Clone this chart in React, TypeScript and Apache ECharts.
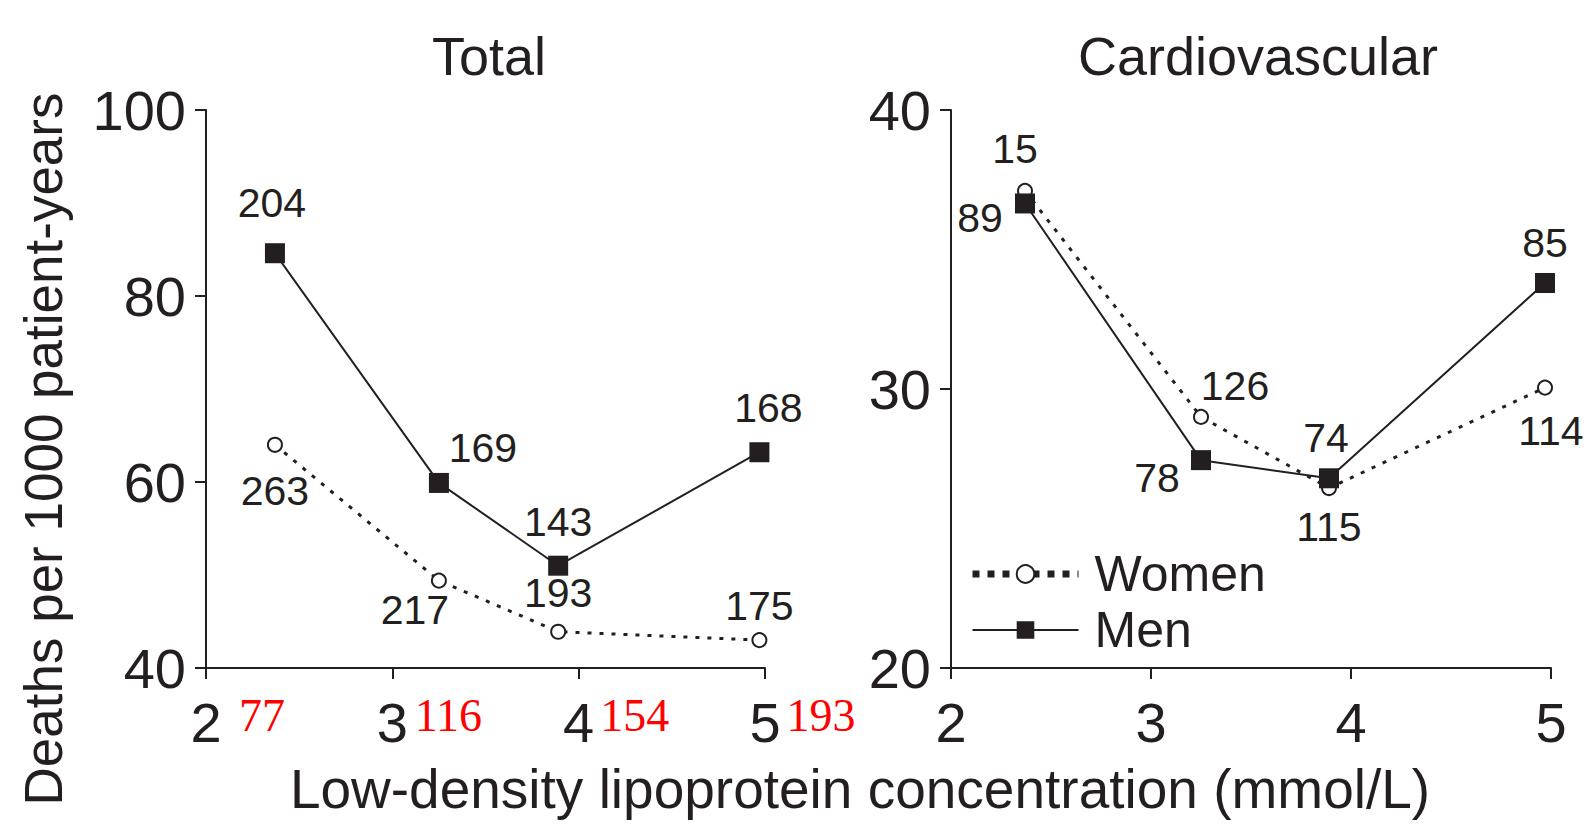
import React, { useEffect, useRef } from "react";
import * as echarts from "echarts";

// ---- data ----
const xTickValues = [2, 3, 4, 5];
const mgdlTickLabels = ["77", "116", "154", "193"];
const ldlMeans = [2.37, 3.25, 3.89, 4.97];

const totalMen = [84.6, 59.9, 51.0, 63.2];
const totalWomen = [64.0, 49.4, 43.9, 43.0];
const totalMenCounts = ["204", "169", "143", "168"];
const totalWomenCounts = ["263", "217", "193", "175"];

const cvMen = [36.65, 27.45, 26.8, 33.8];
const cvWomen = [37.1, 29.0, 26.45, 30.05];
const cvMenCounts = ["89", "78", "74", "85"];
const cvWomenCounts = ["15", "126", "115", "114"];

const panelTitles = ["Total", "Cardiovascular"];
const xAxisTitle = "Low-density lipoprotein concentration (mmol/L)";
const yAxisTitle = "Deaths per 1000 patient-years";

// ---- styling (label offsets in px) ----
const totalMenOffsets = [[-3, -50], [44, -35], [0, -44], [9, -44]];
const totalWomenOffsets = [[0, 46], [-24, 29], [0, -39], [0, -34]];
const cvMenOffsets = [[-45, 15], [-44, 18], [-3, -40], [0, -40]];
const cvWomenOffsets = [[-10, -42], [34, -31], [0, 39], [6, 43]];

const INK = "#231f20";
const FONT = "'Liberation Sans', Arial, Helvetica, sans-serif";

function mkData(ys: number[]) {
  return ldlMeans.map((x, i) => [x, ys[i]]);
}

function mkSeries(
  name: string,
  ys: number[],
  counts: string[],
  offsets: number[][],
  axis: number,
  women: boolean
) {
  return {
    type: "line",
    name,
    xAxisIndex: axis,
    yAxisIndex: axis,
    z: women ? 2 : 3,
    data: mkData(ys).map((v, i) => ({
      value: v,
      label: { offset: offsets[i] },
    })),
    symbol: women ? "emptyCircle" : "rect",
    symbolSize: women ? 14 : 20,
    lineStyle: women
      ? { color: INK, width: 3, type: [4, 8] }
      : { color: INK, width: 2, type: "solid" },
    itemStyle: women
      ? { color: INK, borderColor: INK, borderWidth: 2 }
      : { color: INK },
    label: {
      show: true,
      position: "inside",
      formatter: (p: any) => counts[p.dataIndex],
      color: INK,
      fontFamily: FONT,
      fontSize: 41,
    },
    emphasis: { disabled: true },
  };
}

function valueXAxis(gridIndex: number) {
  return {
    type: "value",
    gridIndex,
    min: 2,
    max: 5,
    interval: 1,
    axisLine: { show: true, onZero: false, lineStyle: { color: INK, width: 2 } },
    axisTick: { show: true, length: 11, lineStyle: { color: INK, width: 2 } },
    axisLabel: {
      color: INK,
      fontFamily: FONT,
      fontSize: 56,
      margin: 26,
      formatter: (v: number) => (xTickValues.includes(v) ? String(v) : ""),
    },
    splitLine: { show: false },
  };
}

function valueYAxis(gridIndex: number, min: number, max: number, interval: number) {
  return {
    type: "value",
    gridIndex,
    min,
    max,
    interval,
    axisLine: { show: true, lineStyle: { color: INK, width: 2 } },
    axisTick: { show: true, length: 11, lineStyle: { color: INK, width: 2 } },
    axisLabel: {
      color: INK,
      fontFamily: FONT,
      fontSize: 56,
      margin: 20,
    },
    splitLine: { show: false },
  };
}

export default function App() {
  const ref = useRef<HTMLDivElement>(null);

  useEffect(() => {
    document.body.style.margin = "0";
    if (!ref.current) return;
    const chart = echarts.init(ref.current, null, { renderer: "svg" });

    const mgAxis = {
      type: "value",
      gridIndex: 0,
      min: 2,
      max: 5,
      interval: 1,
      position: "bottom",
      axisLine: { show: false },
      axisTick: { show: false },
      splitLine: { show: false },
      axisLabel: {
        color: "#ff0000",
        fontFamily: "'Liberation Serif', 'Times New Roman', serif",
        fontSize: 46,
        margin: 24,
        padding: [0, 0, 0, 112],
        formatter: (v: number) => {
          const i = xTickValues.indexOf(v);
          return i >= 0 ? mgdlTickLabels[i] : "";
        },
      },
    };

    chart.setOption({
      animation: false,
      backgroundColor: "#ffffff",
      textStyle: { fontFamily: FONT },
      title: [
        {
          text: panelTitles[0],
          left: 484,
          top: 24,
          textAlign: "center",
          textStyle: { fontFamily: FONT, fontSize: 54, fontWeight: "normal", color: INK },
        },
        {
          text: panelTitles[1],
          left: 1253,
          top: 24,
          textAlign: "center",
          textStyle: { fontFamily: FONT, fontSize: 54, fontWeight: "normal", color: INK },
        },
      ],
      legend: {
        orient: "vertical",
        left: 964,
        top: 544,
        itemWidth: 106,
        itemHeight: 22,
        itemGap: 6,
        selectedMode: false,
        textStyle: { fontFamily: FONT, fontSize: 50, color: INK, padding: [0, 0, 0, 11] },
        data: [
          { name: "Women", lineStyle: { width: 7, type: [7, 8], color: INK } },
          { name: "Men" },
        ],
      },
      grid: [
        { left: 206, top: 110, width: 559, height: 558 },
        { left: 951, top: 110, width: 600, height: 558 },
      ],
      xAxis: [valueXAxis(0), valueXAxis(1), mgAxis],
      yAxis: [valueYAxis(0, 40, 100, 20), valueYAxis(1, 20, 40, 10)],
      series: [
        mkSeries("Women", totalWomen, totalWomenCounts, totalWomenOffsets, 0, true),
        mkSeries("Men", totalMen, totalMenCounts, totalMenOffsets, 0, false),
        mkSeries("Women", cvWomen, cvWomenCounts, cvWomenOffsets, 1, true),
        mkSeries("Men", cvMen, cvMenCounts, cvMenOffsets, 1, false),
      ],
      graphic: [
        {
          type: "text",
          x: 860,
          y: 789,
          style: {
            text: xAxisTitle,
            font: `55px ${FONT}`,
            fill: INK,
            textAlign: "center",
            textVerticalAlign: "middle",
          },
        },
        {
          type: "text",
          x: 43,
          y: 449,
          rotation: Math.PI / 2,
          style: {
            text: yAxisTitle,
            font: `53px ${FONT}`,
            fill: INK,
            textAlign: "center",
            textVerticalAlign: "middle",
          },
        },
      ],
    });

    return () => chart.dispose();
  }, []);

  return <div ref={ref} style={{ width: 1595, height: 825 }} />;
}
